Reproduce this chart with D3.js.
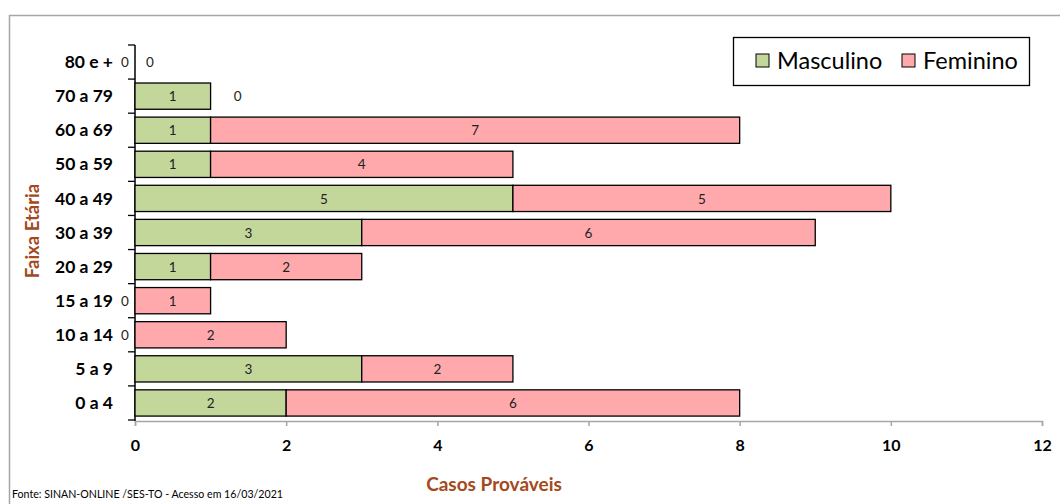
<!DOCTYPE html>
<html><head><meta charset="utf-8">
<script src="https://cdn.jsdelivr.net/npm/d3@7"></script>
<style>
body{margin:0;background:#fff;}
svg{font-family:Lato,"Open Sans",sans-serif;}
</style></head>
<body><svg id="c" width="1060" height="504"></svg>
<script>
const categories = ["0 a 4","5 a 9","10 a 14","15 a 19","20 a 29","30 a 39","40 a 49","50 a 59","60 a 69","70 a 79","80 e +"];
const masculino = [2,3,0,0,1,3,5,1,1,1,0];
const feminino  = [6,2,2,1,2,6,5,4,7,0,0];
const xTicks = [0,2,4,6,8,10,12];
const seriesNames = ["Masculino","Feminino"];
const colors = ["#C4D79B","#FFA9AC"];

const svg = d3.select("#c");
svg.append("rect").attr("x",9.5).attr("y",15.5).attr("width",1100).attr("height",600)
  .attr("fill","none").attr("stroke","#a6a6a6").attr("stroke-width",1.5);

const x = d3.scaleLinear().domain([0,12]).range([135,1042]);
const y = d3.scaleBand().domain(categories.slice().reverse()).range([45,420]).paddingInner(0.23).paddingOuter(0.115);
const yb = d3.scaleBand().domain(categories.slice().reverse()).range([45,420]);

const xa = svg.append("g").attr("transform","translate(0,421)")
  .call(d3.axisBottom(x).tickValues(xTicks).tickSize(5).tickPadding(14).tickFormat(d3.format("d")));
xa.select(".domain").attr("stroke","#a6a6a6").attr("stroke-width",1.5);
xa.selectAll(".tick line").attr("stroke","#a6a6a6").attr("stroke-width",1.5);
xa.selectAll(".tick text").attr("font-size",16).attr("font-weight","bold").attr("fill","#000")
  .attr("font-family","Lato,sans-serif");

svg.append("line").attr("x1",135).attr("x2",135).attr("y1",45).attr("y2",421).attr("stroke","#000").attr("stroke-width",1.5);
const bounds = categories.map((c)=>yb(c)).concat([420]);
svg.selectAll(".yt").data(bounds).join("line").attr("x1",128).attr("x2",135)
  .attr("y1",d=>d).attr("y2",d=>d).attr("stroke","#000").attr("stroke-width",1.3);
svg.selectAll(".yl").data(categories).join("text")
  .attr("x",113).attr("y",d=>yb(d)+yb.bandwidth()/2).attr("dy","0.35em")
  .attr("text-anchor","end").attr("font-size",17.5).attr("font-weight","bold").text(d=>d);

const rows = categories.map((c,i)=>({c, m:masculino[i], f:feminino[i]}));
const g = svg.append("g");
const lab = (xx,yy,t)=>g.append("text").attr("x",xx).attr("y",yy).attr("dy","0.38em")
  .attr("text-anchor","middle").attr("font-size",13.5).attr("fill","#222").text(t);
rows.forEach(r=>{
  const yy = y(r.c), h = y.bandwidth();
  if(r.m>0){
    g.append("rect").attr("x",x(0)).attr("y",yy).attr("width",x(r.m)-x(0)).attr("height",h)
      .attr("fill",colors[0]).attr("stroke","#000").attr("stroke-width",1.3);
    lab((x(0)+x(r.m))/2, yy+h/2, r.m);
  } else {
    lab(125, yy+h/2, r.m);
  }
  if(r.f>0){
    g.append("rect").attr("x",x(r.m)).attr("y",yy).attr("width",x(r.m+r.f)-x(r.m)).attr("height",h)
      .attr("fill",colors[1]).attr("stroke","#000").attr("stroke-width",1.3);
    lab((x(r.m)+x(r.m+r.f))/2, yy+h/2, r.f);
  } else {
    lab(x(r.m)+(r.m>0?27:15), yy+h/2, r.f);
  }
});

svg.append("text").attr("transform","translate(39,231) rotate(-90)").attr("text-anchor","middle")
  .attr("font-size",18.5).attr("font-weight","bold").attr("fill","#A5481C").text("Faixa Etária");
svg.append("text").attr("x",494).attr("y",491).attr("text-anchor","middle")
  .attr("font-size",19).attr("font-weight","bold").attr("fill","#A5481C").text("Casos Prováveis");
svg.append("text").attr("x",12).attr("y",498).attr("font-size",12).attr("fill","#000")
  .attr("textLength",271).attr("lengthAdjust","spacingAndGlyphs")
  .text("Fonte: SINAN-ONLINE /SES-TO - Acesso em 16/03/2021");

const lg = svg.append("g");
lg.append("rect").attr("x",733.5).attr("y",37.5).attr("width",296).attr("height",48)
  .attr("fill","#fff").attr("stroke","#000").attr("stroke-width",1.3);
const lx = [756, 902];
seriesNames.forEach((n,i)=>{
  lg.append("rect").attr("x",lx[i]).attr("y",54).attr("width",13).attr("height",13)
    .attr("fill",colors[i]).attr("stroke","#000").attr("stroke-width",1);
  lg.append("text").attr("x",lx[i]+21).attr("y",61).attr("dy","0.36em").attr("font-size",23.5).attr("fill","#000").text(n);
});
</script></body></html>
